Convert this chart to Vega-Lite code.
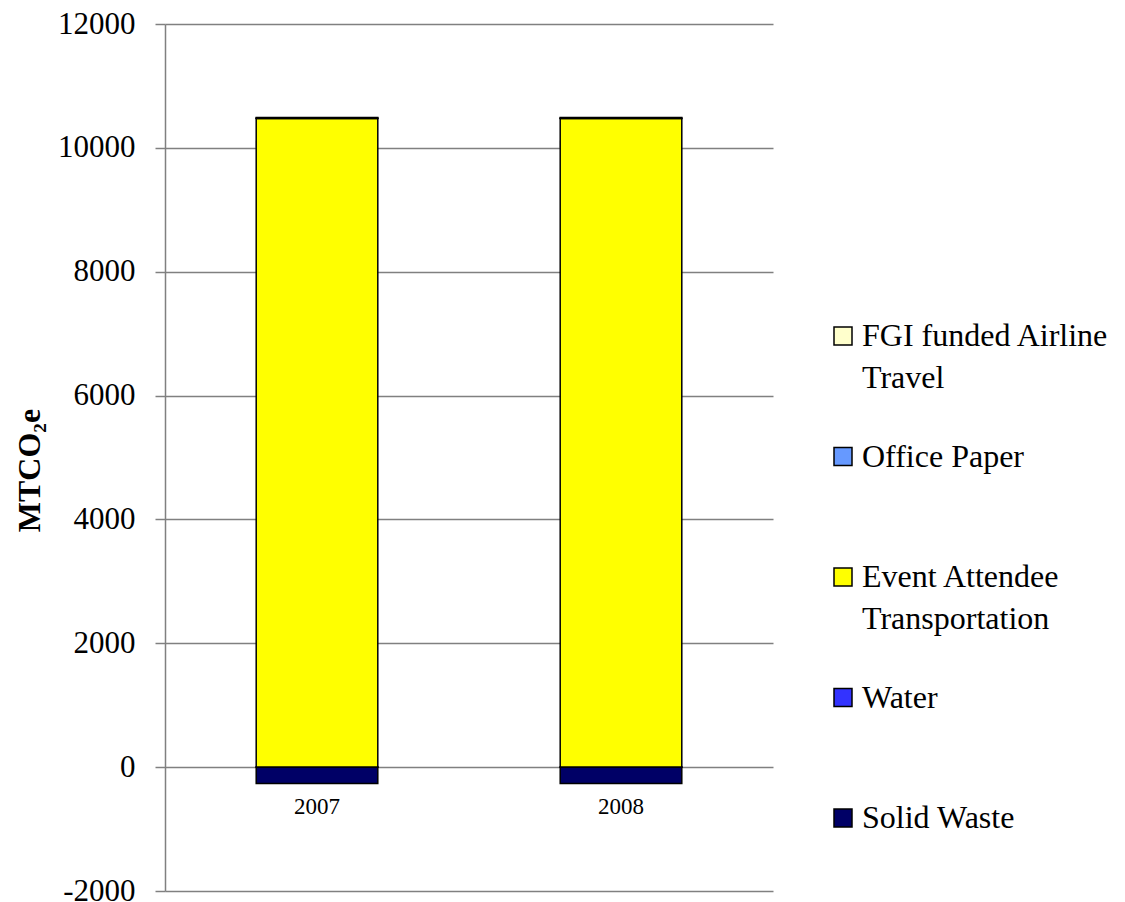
{
  "$schema": "https://vega.github.io/schema/vega-lite/v6.json",
  "autosize": {"type": "none"},
  "padding": {"left": 165, "top": 24, "right": 352, "bottom": 11},
  "width": 608,
  "height": 867,
  "background": "white",
  "data": {
    "values": [
      {"year": "2007", "source": "Solid Waste", "value": -265, "o": 1},
      {"year": "2007", "source": "Water", "value": 3, "o": 2},
      {"year": "2007", "source": "Event Attendee Transportation", "value": 10470, "o": 3},
      {"year": "2007", "source": "Office Paper", "value": 6, "o": 4},
      {"year": "2007", "source": "FGI funded Airline Travel", "value": 10, "o": 5},
      {"year": "2008", "source": "Solid Waste", "value": -265, "o": 1},
      {"year": "2008", "source": "Water", "value": 3, "o": 2},
      {"year": "2008", "source": "Event Attendee Transportation", "value": 10470, "o": 3},
      {"year": "2008", "source": "Office Paper", "value": 6, "o": 4},
      {"year": "2008", "source": "FGI funded Airline Travel", "value": 10, "o": 5}
    ]
  },
  "layer": [
    {
      "mark": {"type": "bar", "stroke": "black", "strokeWidth": 1.5},
      "encoding": {
        "x": {
          "field": "year",
          "type": "nominal",
          "scale": {"paddingInner": 0.6, "paddingOuter": 0.3},
          "axis": {
            "title": null,
            "labelAngle": 0,
            "labelFont": "Liberation Serif",
            "labelFontSize": 23,
            "labelColor": "black",
            "offset": -123,
            "ticks": false,
            "domain": false,
            "labelPadding": 27
          }
        },
        "y": {
          "field": "value",
          "type": "quantitative",
          "stack": "zero",
          "scale": {"domain": [-2000, 12000], "nice": false},
          "axis": {
            "title": "MTCO₂e",
            "titleFont": "Liberation Serif",
            "titleFontSize": 32,
            "titleFontWeight": "bold",
            "titleColor": "black",
            "titlePadding": 11,
            "titleY": 446,
            "values": [-2000, 0, 2000, 4000, 6000, 8000, 10000, 12000],
            "labelExpr": "datum.value < 0 ? '-' + abs(datum.value) : '' + datum.value",
            "labelFont": "Liberation Serif",
            "labelFontSize": 31,
            "labelColor": "black",
            "labelPadding": 20,
            "tickSize": 10,
            "tickColor": "#808080",
            "tickWidth": 1.5,
            "domainColor": "#808080",
            "domainWidth": 1.5,
            "grid": true,
            "gridColor": "#808080",
            "gridWidth": 1.5
          }
        },
        "color": {
          "field": "source",
          "type": "nominal",
          "scale": {
            "domain": ["FGI funded Airline Travel", "Office Paper", "Event Attendee Transportation", "Water", "Solid Waste"],
            "range": ["#FFFFCC", "#6699FF", "#FFFF00", "#3333FF", "#000066"]
          },
          "legend": {
            "title": null,
            "orient": "none",
            "legendX": 662,
            "legendY": 296,
            "symbolType": "square",
            "symbolSize": 324,
            "symbolStrokeColor": "black",
            "symbolStrokeWidth": 1.5,
            "symbolOpacity": 1,
            "labelFont": "Liberation Serif",
            "labelFontSize": 32,
            "labelColor": "black",
            "labelLimit": 400,
            "labelOffset": 3,
            "labelBaseline": "middle",
            "labelExpr": "datum.label == 'FGI funded Airline Travel' ? ['FGI funded Airline', 'Travel'] : datum.label == 'Event Attendee Transportation' ? ['Event Attendee', 'Transportation'] : [datum.label, '']",
            "rowPadding": 46.5
          }
        },
        "order": {"field": "o", "type": "quantitative"}
      }
    },
    {
      "mark": {"type": "rule", "opacity": 0},
      "encoding": {
        "x": {
          "field": "year",
          "type": "nominal",
          "axis": {
            "title": null,
            "labels": false,
            "domain": false,
            "ticks": true,
            "bandPosition": 0,
            "tickSize": 7,
            "tickColor": "#808080",
            "tickWidth": 1.5,
            "offset": -123,
            "grid": false
          }
        }
      }
    }
  ],
  "resolve": {"axis": {"x": "independent"}},
  "config": {
    "view": {"stroke": null},
    "style": {"guide-label": {"lineHeight": 42}}
  }
}
